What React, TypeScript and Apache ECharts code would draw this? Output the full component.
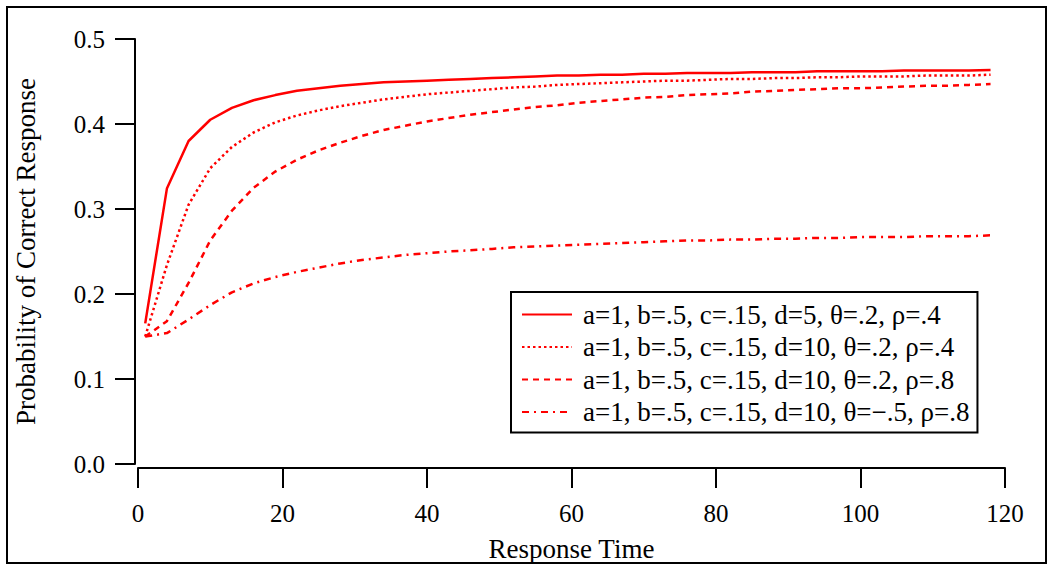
import React, { useEffect, useRef } from "react";
import * as echarts from "echarts";

const xValues = [1, 4, 7, 10, 13, 16, 19, 22, 25, 28, 31, 34, 37, 40, 43, 46, 49, 52, 55, 58, 61, 64, 67, 70, 73, 76, 79, 82, 85, 88, 91, 94, 97, 100, 103, 106, 109, 112, 115, 118];

const seriesNames = [
  "a=1, b=.5, c=.15, d=5, θ=.2, ρ=.4",
  "a=1, b=.5, c=.15, d=10, θ=.2, ρ=.4",
  "a=1, b=.5, c=.15, d=10, θ=.2, ρ=.8",
  "a=1, b=.5, c=.15, d=10, θ=−.5, ρ=.8",
];

const solidValues = [0.1655, 0.324, 0.38, 0.405, 0.419, 0.428, 0.434, 0.439, 0.442, 0.445, 0.447, 0.449, 0.45, 0.451, 0.452, 0.453, 0.454, 0.455, 0.456, 0.457, 0.457, 0.458, 0.458, 0.459, 0.459, 0.46, 0.46, 0.46, 0.461, 0.461, 0.461, 0.462, 0.462, 0.462, 0.462, 0.463, 0.463, 0.463, 0.463, 0.4635];
const dottedValues = [0.15, 0.234, 0.305, 0.348, 0.373, 0.39, 0.402, 0.41, 0.416, 0.421, 0.425, 0.429, 0.432, 0.435, 0.437, 0.439, 0.441, 0.443, 0.444, 0.446, 0.447, 0.448, 0.449, 0.45, 0.451, 0.451, 0.452, 0.453, 0.453, 0.454, 0.454, 0.455, 0.455, 0.456, 0.456, 0.456, 0.457, 0.457, 0.457, 0.458];
const dashedValues = [0.15, 0.168, 0.213, 0.263, 0.298, 0.325, 0.344, 0.358, 0.369, 0.378, 0.386, 0.393, 0.398, 0.403, 0.407, 0.411, 0.414, 0.417, 0.42, 0.422, 0.425, 0.427, 0.429, 0.431, 0.432, 0.434, 0.435, 0.436, 0.438, 0.439, 0.44, 0.441, 0.442, 0.442, 0.443, 0.444, 0.445, 0.445, 0.446, 0.447];
const dashDotValues = [0.15, 0.154, 0.17, 0.187, 0.202, 0.2125, 0.22, 0.226, 0.231, 0.236, 0.24, 0.243, 0.246, 0.248, 0.25, 0.2515, 0.253, 0.255, 0.256, 0.257, 0.258, 0.259, 0.26, 0.261, 0.262, 0.263, 0.263, 0.264, 0.264, 0.265, 0.265, 0.266, 0.266, 0.267, 0.267, 0.267, 0.268, 0.268, 0.268, 0.269];

const allValues = [solidValues, dottedValues, dashedValues, dashDotValues];
const dashTypes: any[] = ["solid", [2.5, 3], [6, 5], [7, 5, 2, 5]];

const FONT = "'Liberation Serif', 'Times New Roman', serif";

export default function App() {
  const ref = useRef<HTMLDivElement>(null);
  useEffect(() => {
    const chart = echarts.init(ref.current!, null, { renderer: "svg" });
    const series = allValues.map((vals, i) => ({
      name: seriesNames[i],
      type: "line",
      symbol: "none",
      data: xValues.map((x, j) => [x, vals[j]]),
      lineStyle: { color: "#ff0000", width: 2.5, type: dashTypes[i] },
      itemStyle: { color: "#ff0000" },
    }));
    chart.setOption({
      animation: false,
      backgroundColor: "#ffffff",
      textStyle: { fontFamily: FONT },
      grid: { left: 138, right: 48, top: 39, bottom: 103 },
      xAxis: {
        type: "value",
        min: 0,
        max: 120,
        interval: 20,
        offset: 4,
        name: "Response Time",
        nameLocation: "middle",
        nameGap: 67,
        nameTextStyle: { fontFamily: FONT, fontSize: 27, color: "#000" },
        axisLine: { show: true, onZero: false, lineStyle: { color: "#000", width: 2 } },
        axisTick: { show: true, length: 20, lineStyle: { color: "#000", width: 2 } },
        axisLabel: { fontFamily: FONT, fontSize: 25, color: "#000", margin: 33 },
        splitLine: { show: false },
      },
      yAxis: {
        type: "value",
        min: 0,
        max: 0.5,
        interval: 0.1,
        offset: 3,
        name: "Probability of Correct Response",
        nameLocation: "middle",
        nameGap: 96,
        nameTextStyle: { fontFamily: FONT, fontSize: 27, color: "#000" },
        axisLine: { show: true, onZero: false, lineStyle: { color: "#000", width: 2 } },
        axisTick: { show: true, length: 20, lineStyle: { color: "#000", width: 2 } },
        axisLabel: {
          fontFamily: FONT,
          fontSize: 25,
          color: "#000",
          margin: 30,
          formatter: (v: number) => v.toFixed(1),
        },
        splitLine: { show: false },
      },
      legend: {
        orient: "vertical",
        left: 511,
        top: 292,
        backgroundColor: "#fff",
        borderColor: "#000",
        borderWidth: 2,
        padding: [9, 8, 7, 10],
        itemWidth: 50,
        itemHeight: 14,
        itemGap: 5.5,
        itemStyle: { opacity: 0 },
        textStyle: {
          fontFamily: FONT,
          fontSize: 27,
          color: "#000",
          lineHeight: 27,
          padding: [0, 0, 0, 6],
        },
        data: seriesNames,
      },
      graphic: [
        {
          type: "rect",
          shape: { x: 7, y: 7, width: 1039, height: 556 },
          style: { fill: "none", stroke: "#000", lineWidth: 2 },
          silent: true,
        },
      ],
      series,
    });
    return () => chart.dispose();
  }, []);
  return (
    <div
      ref={ref}
      style={{ position: "fixed", left: 0, top: 0, width: 1053, height: 567 }}
    />
  );
}
